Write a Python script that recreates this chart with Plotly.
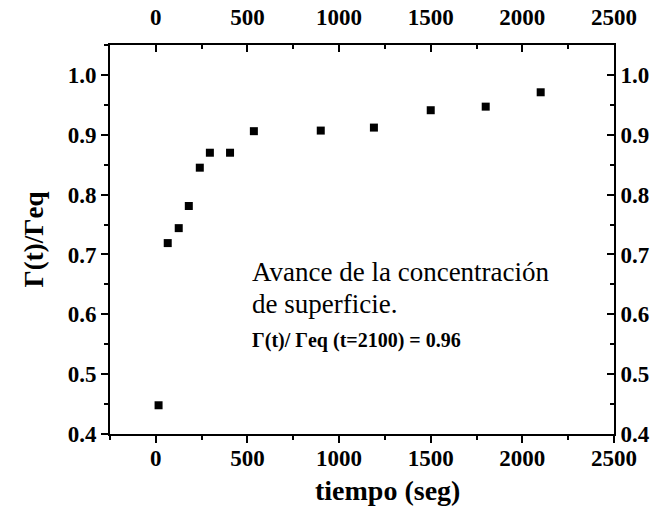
import plotly.graph_objects as go

# data
tiempo = [15, 65, 125, 180, 240, 295, 405, 535, 900, 1190, 1500, 1800, 2100]
gamma_ratio = [0.448, 0.719, 0.744, 0.781, 0.845, 0.870, 0.870, 0.906, 0.907, 0.912, 0.941, 0.947, 0.971]

x_ticks = [0, 500, 1000, 1500, 2000, 2500]
y_ticks = [0.4, 0.5, 0.6, 0.7, 0.8, 0.9, 1.0]

FONT = "Liberation Serif, Times New Roman, serif"
tick_font = dict(family=FONT, size=23, color="black", weight="bold")

fig = go.Figure()
fig.add_trace(go.Scatter(
    x=tiempo, y=gamma_ratio, mode="markers",
    marker=dict(symbol="square", size=8, color="black"),
    showlegend=False, hoverinfo="x+y"))
# invisible twin trace to attach top/right axes
fig.add_trace(go.Scatter(
    x=tiempo, y=gamma_ratio, mode="markers", xaxis="x2", yaxis="y2",
    marker=dict(opacity=0), showlegend=False, hoverinfo="skip"))

xr = [-250, 2500]
yr = [0.4, 1.05]

common_line = dict(showline=True, linecolor="black", linewidth=2,
                   showgrid=False, zeroline=False, tickcolor="black",
                   tickwidth=2, automargin=False)

fig.update_layout(
    width=659, height=512,
    margin=dict(l=110, r=45, t=45, b=78),
    plot_bgcolor="white", paper_bgcolor="white",
    font=dict(family=FONT, color="black"),
    xaxis=dict(range=xr, tickmode="array", tickvals=x_ticks,
               ticks="outside", ticklen=7, tickfont=tick_font,
               ticklabelstandoff=-5,
               minor=dict(ticks="outside", ticklen=4, dtick=250, tick0=0,
                          tickcolor="black", tickwidth=1.5),
               **common_line),
    yaxis=dict(range=yr, tickmode="array", tickvals=y_ticks, tickformat=".1f",
               ticks="outside", ticklen=7, tickfont=tick_font,
               minor=dict(ticks="outside", ticklen=4, dtick=0.05, tick0=0.4,
                          tickcolor="black", tickwidth=1.5),
               title=dict(text="Γ(t)/Γeq",
                          font=dict(family=FONT, size=27, color="black", weight="bold"),
                          standoff=16),
               **common_line),
    xaxis2=dict(range=xr, overlaying="x", side="top", anchor="y2",
                tickmode="array", tickvals=x_ticks,
                ticks="inside", ticklen=7, tickfont=tick_font,
                ticklabelstandoff=9,
                minor=dict(ticks="inside", ticklen=4, dtick=250, tick0=0,
                           tickcolor="black", tickwidth=1.5),
                **common_line),
    yaxis2=dict(range=yr, overlaying="y", side="right", anchor="x2",
                tickmode="array", tickvals=y_ticks, tickformat=".1f",
                ticks="inside", ticklen=7, tickfont=tick_font,
                minor=dict(ticks="inside", ticklen=4, dtick=0.05, tick0=0.4,
                           tickcolor="black", tickwidth=1.5),
                **common_line),
)

# x-axis title (placed slightly right of centre as in the reference)
fig.add_annotation(x=0.55, y=0, xref="paper", yref="paper", yshift=-56,
                   xanchor="center", yanchor="middle", showarrow=False,
                   text="tiempo (seg)",
                   font=dict(family=FONT, size=28, color="black", weight="bold"))

ann_x = 512
fig.add_annotation(x=ann_x, y=0.671, xref="x", yref="y", xanchor="left", yanchor="middle",
                   text="Avance de la concentración", showarrow=False,
                   font=dict(family=FONT, size=27, color="black"))
fig.add_annotation(x=ann_x, y=0.617, xref="x", yref="y", xanchor="left", yanchor="middle",
                   text="de superficie.", showarrow=False,
                   font=dict(family=FONT, size=27, color="black"))
fig.add_annotation(x=ann_x, y=0.557, xref="x", yref="y", xanchor="left", yanchor="middle",
                   text="Γ(t)/ Γeq (t=2100) = 0.96", showarrow=False,
                   font=dict(family=FONT, size=20, color="black", weight="bold"))

fig.write_html("out.html")
